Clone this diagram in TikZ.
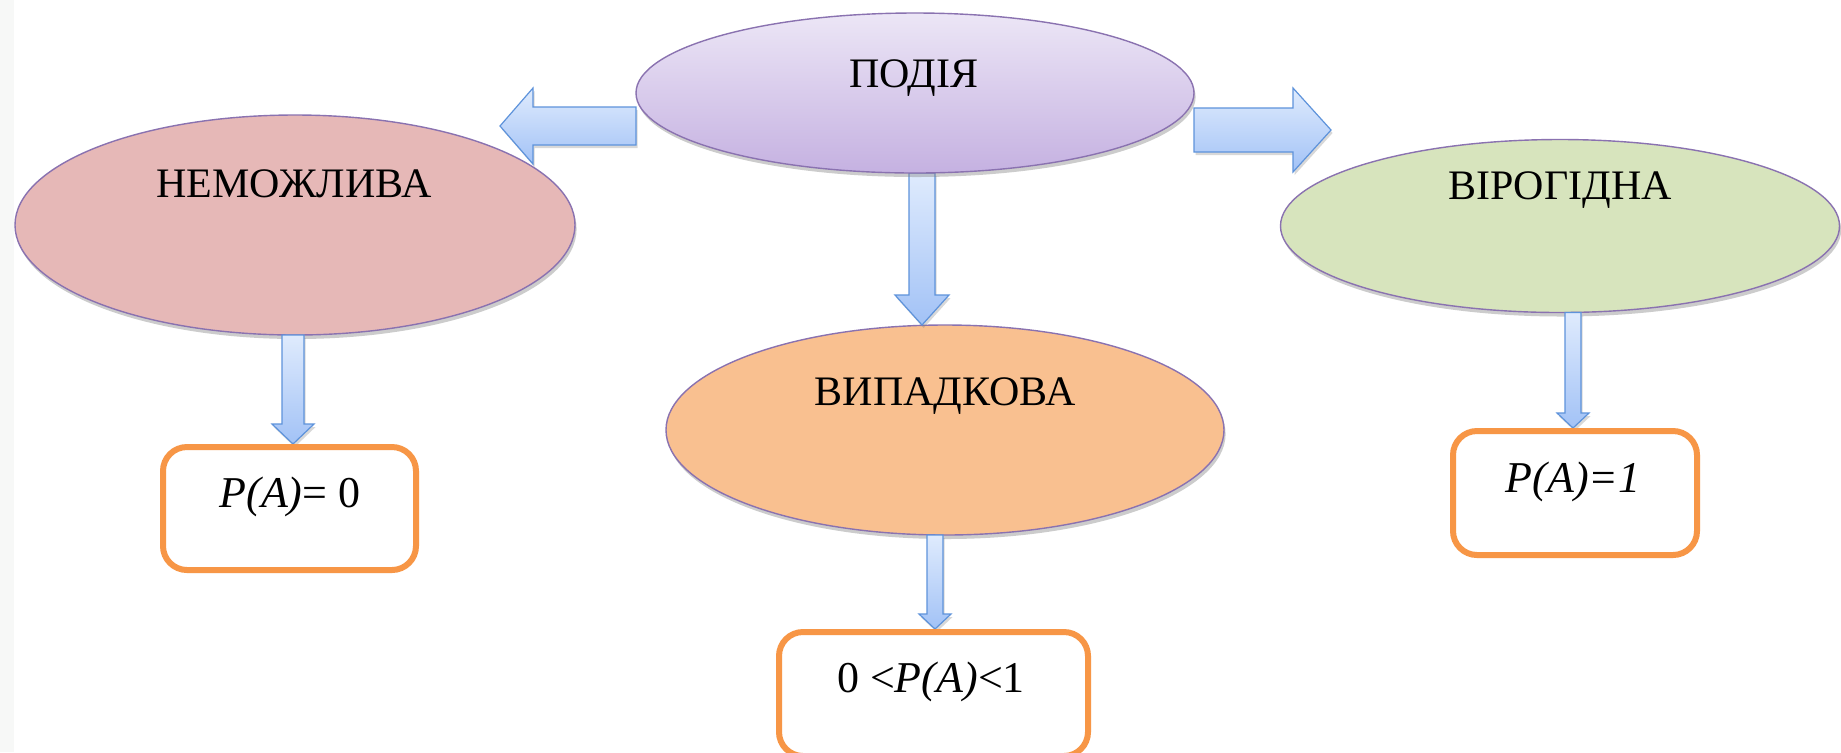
\documentclass[tikz,border=0pt]{standalone}
\usepackage{fontspec}
\setmainfont{Liberation Serif}
\usetikzlibrary{shapes.geometric,shadows,calc}
\definecolor{podtop}{HTML}{ECE6F6}
\definecolor{podbot}{HTML}{C5B1E1}
\definecolor{ellline}{HTML}{8A72B0}
\definecolor{impfill}{HTML}{E6B8B7}
\definecolor{randfill}{HTML}{F9C090}
\definecolor{surefill}{HTML}{D7E4BD}
\definecolor{boxline}{HTML}{F79646}
\definecolor{arrtop}{HTML}{DFEBFD}
\definecolor{arrbot}{HTML}{A2C2F6}
\definecolor{arrline}{HTML}{5E93DB}
\definecolor{edgestrip}{HTML}{F7F8F7}
\tikzset{
  ell/.style={ellipse, draw=ellline, line width=0.7pt, inner sep=0pt, outer sep=0pt,
    drop shadow={shadow xshift=0.8pt, shadow yshift=-2pt, opacity=0.4}},
  probbox/.style={rectangle, rounded corners=12pt, draw=boxline, line width=3pt,
    fill=white, inner sep=0pt, outer sep=0pt},
  lbl/.style={font=\fontsize{21pt}{25pt}\selectfont, inner sep=0pt, anchor=base},
  fml/.style={font=\fontsize{22pt}{26pt}\selectfont, inner sep=0pt, anchor=base},
  blockarr/.style={draw=arrline, line width=0.6pt, top color=arrtop, bottom color=arrbot,
    drop shadow={shadow xshift=0.8pt, shadow yshift=-1.5pt, opacity=0.3}}
}
% vertical block arrow: #1 start (y), #2 tip (x,y), #3 shaft half, #4 head half, #5 head length (px)
\newcommand\vblock[5]{%
  \path[blockarr] let \p1=(#1), \p2=(#2) in
    (\x2-#3*0.5pt,\y1) -- (\x2+#3*0.5pt,\y1) -- (\x2+#3*0.5pt,\y2+#5*0.5pt)
    -- (\x2+#4*0.5pt,\y2+#5*0.5pt) -- (\x2,\y2) -- (\x2-#4*0.5pt,\y2+#5*0.5pt)
    -- (\x2-#3*0.5pt,\y2+#5*0.5pt) -- cycle;}
% horizontal block arrow: #1 start (x), #2 tip (x,y), #3 shaft half, #4 head half, #5 signed head length (px)
\newcommand\hblock[5]{%
  \path[blockarr] let \p1=(#1), \p2=(#2) in
    (\x1,\y2+#3*0.5pt) -- (\x2+#5*0.5pt,\y2+#3*0.5pt) -- (\x2+#5*0.5pt,\y2+#4*0.5pt)
    -- (\x2,\y2) -- (\x2+#5*0.5pt,\y2-#4*0.5pt) -- (\x2+#5*0.5pt,\y2-#3*0.5pt)
    -- (\x1,\y2-#3*0.5pt) -- cycle;}
\begin{document}
\begin{tikzpicture}[x=0.5pt,y=-0.5pt]
  \useasboundingbox (0,0) rectangle (1841,752);
  \fill[white] (0,0) rectangle (1841,752);
  \fill[edgestrip] (0,0) rectangle (14,752);

  % side ellipses
  \node[ell, fill=impfill, minimum width=280pt, minimum height=110pt] (imp) at (295,225) {};
  \node[ell, fill=surefill, minimum width=279.5pt, minimum height=86.5pt] (sure) at (1560,226) {};
  \node[ell, fill=randfill, minimum width=279pt, minimum height=105pt] (rand) at (945,430) {};

  % arrow tips
  \coordinate (tl) at (500,126);
  \coordinate (tr) at (1331,130);
  \coordinate (td) at (922,325);

  % top event ellipse (geometry only, for arrow starts)
  \path (915,93) node[ellipse, minimum width=279pt, minimum height=80pt, inner sep=0pt, outer sep=0pt] (ev) {};

  % block arrows from the event
  \hblock{ev.west}{tl}{19}{38}{33}
  \hblock{ev.east}{tr}{22}{42}{-38}
  \vblock{ev.south}{td}{13}{27}{30}

  % top event ellipse drawn
  \node[ell, top color=podtop, bottom color=podbot, minimum width=279pt, minimum height=80pt] (evd) at (ev) {};

  % probability boxes
  \coordinate (p0tip) at (293,444);
  \coordinate (pmtip) at (935,629);
  \coordinate (p1tip) at (1573,428);
  \vblock{imp.south}{p0tip}{11}{21}{20}
  \vblock{rand.south}{pmtip}{8}{16}{15}
  \vblock{sure.south}{p1tip}{8}{16}{15}

  \node[probbox, minimum width=126.5pt, minimum height=61.5pt] (p0) at (289.5,508.5) {};
  \node[probbox, minimum width=154.5pt, minimum height=62pt] (pm) at (933.5,694) {};
  \node[probbox, minimum width=122pt, minimum height=62pt] (p1) at (1575,493) {};

  % labels
  \node[lbl] (tev) at (914,87) {ПОДІЯ};
  \node[lbl] (timp) at (294,197) {НЕМОЖЛИВА};
  \node[lbl] (trand) at (945,405) {ВИПАДКОВА};
  \node[lbl] (tsure) at (1560,199) {ВІРОГІДНА};
  \node[fml] (tp0) at (290,507) {\textit{P(A)}= 0};
  \node[fml] (tpm) at (931,692) {0 <\textit{P(A)}<1};
  \node[fml] (tp1) at (1573,492) {\textit{P(A)=1}};
\end{tikzpicture}
\end{document}
